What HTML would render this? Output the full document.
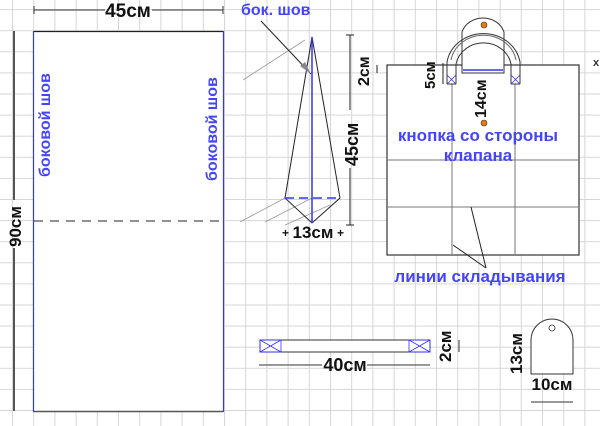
<!DOCTYPE html>
<html><head><meta charset="utf-8"><style>
html,body{margin:0;padding:0;background:#fff}
svg{display:block}
text{font-family:"Liberation Sans",Arial,sans-serif;font-weight:bold}
</style></head><body>
<svg width="600" height="426" viewBox="0 0 600 426" xmlns="http://www.w3.org/2000/svg">
<defs>
<pattern id="g" x="12" y="9.1" width="21.2" height="21.1" patternUnits="userSpaceOnUse">
<path d="M0.5 0V21.1M0 0.5H21.2" stroke="#d6d6d6" stroke-width="1" fill="none"/>
</pattern>
</defs>
<rect width="600" height="426" fill="url(#g)"/>

<!-- left big rect -->
<rect x="34" y="32" width="189" height="380" fill="#fff"/>
<line x1="34" y1="31.5" x2="223" y2="31.5" stroke="#222" stroke-width="1.2"/>
<line x1="33.5" y1="31" x2="33.5" y2="412" stroke="#3333ff" stroke-width="1.2"/>
<line x1="223.5" y1="31" x2="223.5" y2="412" stroke="#3333ff" stroke-width="1.2"/>
<line x1="34" y1="411.5" x2="223" y2="411.5" stroke="#555" stroke-width="1.5"/>
<line x1="34" y1="221" x2="223" y2="221" stroke="#222" stroke-dasharray="9,7"/>
<text transform="translate(50,177) rotate(-90)" font-size="16" fill="#4444ff">боковой шов</text>
<text transform="translate(217,181) rotate(-90)" font-size="16" fill="#4444ff">боковой шов</text>
<!-- 45 dim -->
<line x1="34" y1="10" x2="105" y2="10" stroke="#333"/>
<line x1="152" y1="10" x2="223" y2="10" stroke="#333"/>
<line x1="34" y1="6" x2="34" y2="14" stroke="#333"/><line x1="223" y1="6" x2="223" y2="14" stroke="#333"/>
<text x="128" y="17" font-size="19" text-anchor="middle" fill="#111">45см</text>
<!-- 90 dim -->
<line x1="14" y1="31" x2="14" y2="200" stroke="#555" stroke-width="2"/>
<line x1="14" y1="248" x2="14" y2="411" stroke="#555" stroke-width="2"/>
<text transform="translate(21,247) rotate(-90)" font-size="17" fill="#111">90см</text>

<!-- middle figure -->
<g stroke="#999" stroke-width="0.8">
<line x1="243" y1="80" x2="305" y2="40"/>
<line x1="240" y1="222" x2="285" y2="198"/>
<line x1="265" y1="222" x2="312" y2="198"/>
<line x1="285" y1="225" x2="330" y2="205"/>
</g>
<polygon points="312,37 285,198 312,223 340,198" fill="none" stroke="#222" stroke-width="1"/>
<line x1="312" y1="37" x2="312" y2="223" stroke="#3333ff" stroke-width="1.5"/>
<line x1="285" y1="198" x2="340" y2="198" stroke="#3333ff" stroke-width="1.5" stroke-dasharray="9,5"/>
<line x1="261" y1="21" x2="311" y2="74" stroke="#222"/>
<polygon points="311,74 300,66 305,62" fill="#888"/>
<text x="241" y="15" font-size="16" fill="#4444ff">бок. шов</text>
<line x1="350" y1="35" x2="350" y2="110" stroke="#222"/>
<line x1="350" y1="168" x2="350" y2="225" stroke="#222"/>
<line x1="346" y1="35" x2="354" y2="35" stroke="#222"/><line x1="346" y1="225" x2="354" y2="225" stroke="#222"/>
<text transform="translate(358,166) rotate(-90)" font-size="18" fill="#111">45см</text>
<text transform="translate(369,86) rotate(-90)" font-size="16" fill="#111">2см</text>
<text x="313" y="238" font-size="17" text-anchor="middle" fill="#111">13см</text>
<text x="282" y="237" font-size="12" fill="#111">+</text><text x="337" y="237" font-size="12" fill="#111">+</text>

<!-- bag -->
<rect x="387" y="65" width="192" height="190" fill="#fff" stroke="#333" stroke-width="1.2"/>
<g stroke="#777" stroke-width="1">
<line x1="452" y1="84" x2="452" y2="255"/>
<line x1="515" y1="84" x2="515" y2="255"/>
<line x1="387" y1="160" x2="579" y2="160"/>
<line x1="387" y1="207" x2="579" y2="207"/>
</g>
<path d="M462 73 V32 A22 20 0 0 1 504 32 V73 Z" fill="#fff" stroke="#333"/>
<line x1="463" y1="70" x2="503" y2="70" stroke="#3333ff" stroke-width="1.5"/>
<path d="M447 84 V62 A37 34 0 0 1 520 62 V84" fill="none" stroke="#333"/>
<path d="M456 84 V64 A28 26 0 0 1 511 64 V84" fill="none" stroke="#333"/>
<path d="M451 60 A33 30 0 0 1 516 60" fill="none" stroke="#666"/>
<line x1="447" y1="84" x2="456" y2="84" stroke="#333"/><line x1="511" y1="84" x2="520" y2="84" stroke="#333"/>
<g stroke="#3333ff" stroke-width="0.8"><line x1="447" y1="75" x2="456" y2="84"/><line x1="456" y1="75" x2="447" y2="84"/>
<line x1="511" y1="75" x2="520" y2="84"/><line x1="520" y1="75" x2="511" y2="84"/></g>
<circle cx="484" cy="25" r="3" fill="#e87a10" stroke="#333" stroke-width="0.6"/>
<circle cx="484" cy="123" r="3" fill="#e87a10" stroke="#333" stroke-width="0.6"/>
<line x1="377" y1="65" x2="377" y2="73" stroke="#222"/>
<line x1="443" y1="63" x2="443" y2="84" stroke="#222"/>
<text transform="translate(435,89) rotate(-90)" font-size="15" fill="#111">5см</text>
<text transform="translate(486,118) rotate(-90)" font-size="16" fill="#111">14см</text>
<text x="478" y="141" font-size="17" text-anchor="middle" fill="#4444ff">кнопка со стороны</text>
<text x="478" y="161" font-size="17" text-anchor="middle" fill="#4444ff">клапана</text>
<line x1="486" y1="268" x2="471" y2="207" stroke="#222"/>
<line x1="486" y1="268" x2="453" y2="245" stroke="#222"/>
<text x="480" y="282" font-size="17" text-anchor="middle" fill="#4444ff">линии складывания</text>
<text x="593" y="66" font-size="11" fill="#333">x</text>

<!-- strap -->
<rect x="260" y="340" width="170" height="12" fill="#fff" stroke="#333"/>
<g stroke="#3333ff" stroke-width="0.8" fill="none"><rect x="260" y="340" width="21" height="12"/><line x1="260" y1="340" x2="281" y2="352"/><line x1="281" y1="340" x2="260" y2="352"/>
<rect x="409" y="340" width="21" height="12"/><line x1="409" y1="340" x2="430" y2="352"/><line x1="430" y1="340" x2="409" y2="352"/></g>
<line x1="259" y1="365" x2="322" y2="365" stroke="#333"/>
<line x1="367" y1="365" x2="430" y2="365" stroke="#333"/>
<text x="345" y="371" font-size="18" text-anchor="middle" fill="#111">40см</text>
<line x1="459" y1="340" x2="459" y2="352" stroke="#333"/>
<text transform="translate(451,362) rotate(-90)" font-size="17" fill="#111">2см</text>

<!-- tab -->
<path d="M531 374 V340 A21 21 0 0 1 573 340 V374 Z" fill="#fff" stroke="#333"/>
<circle cx="552" cy="328" r="3" fill="#fff" stroke="#333" stroke-width="0.8"/>
<text transform="translate(522,374) rotate(-90)" font-size="17" fill="#111">13см</text>
<text x="552" y="390" font-size="17" text-anchor="middle" fill="#111">10см</text>
<line x1="531" y1="402" x2="573" y2="402" stroke="#333"/>
</svg>
</body></html>
